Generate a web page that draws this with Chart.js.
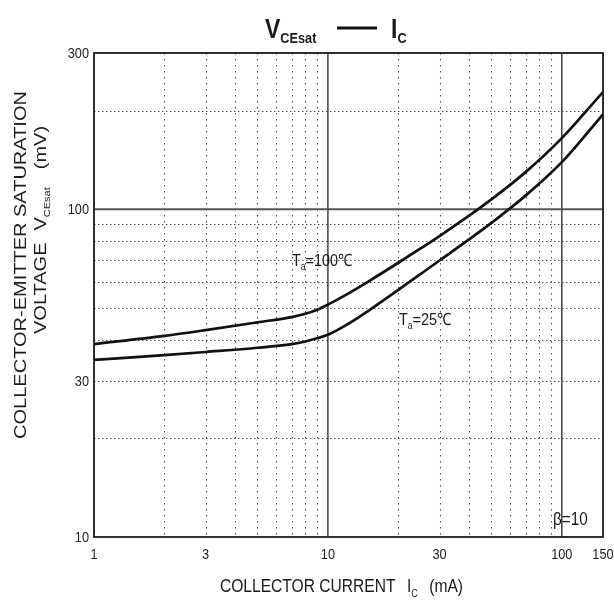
<!DOCTYPE html>
<html>
<head>
<meta charset="utf-8">
<script src="https://cdn.jsdelivr.net/npm/chart.js@4.4.0/dist/chart.umd.min.js"></script>
<style>
    html, body { margin: 0; padding: 0; background: #fff; }
    #contenedor { width: 614px; height: 601px; }
</style>
</head>
<body>
<div id="contenedor"><canvas id="grafico"></canvas></div>
<script>
const corriente = [1, 2, 3, 5, 7, 8, 9, 10, 12, 15, 20, 25, 30, 40, 50, 70, 100, 150];
const vce100 = [38.8, 41.1, 42.8, 45.2, 46.9, 48.0, 49.4, 51.2, 54.9, 60.4, 68.7, 76.1, 82.9, 95.5, 107.2, 129.9, 165, 228];
const vce25 = [34.7, 35.9, 36.7, 37.8, 38.8, 39.5, 40.4, 41.4, 44.4, 49.2, 56.8, 63.6, 69.8, 80.8, 90.9, 110.1, 139.3, 195];

const ticksX = [1, 3, 10, 30, 100, 150];
const ticksY = [10, 30, 100, 300];
const rejillaX = [2, 3, 4, 5, 6, 7, 8, 9, 20, 30, 40, 50, 60, 70, 80, 90];
const rejillaXSolida = [10, 100];
const rejillaY = [20, 30, 40, 50, 60, 70, 80, 90, 200];
const rejillaYSolida = [100];

const FUENTE = '"Liberation Sans", Arial, sans-serif';
const COLOR_TEXTO = "#1a1a1a";

// dibuja una secuencia de trozos de texto (para subindices)
function anchoTrozos(ctx, trozos) {
    let w = 0;
    trozos.forEach(t => {
        ctx.font = (t.bold ? "bold " : "") + t.size + "px " + FUENTE;
        w += ctx.measureText(t.t).width + (t.gap || 0);
    });
    return w;
}
function dibujaTrozos(ctx, trozos, x, y, sx, align, rotado) {
    ctx.save();
    ctx.translate(x, y);
    if (rotado) {
        ctx.rotate(-Math.PI / 2);
        ctx.scale(1, sx);
    } else {
        ctx.scale(sx, 1);
    }
    ctx.fillStyle = COLOR_TEXTO;
    ctx.textBaseline = "alphabetic";
    ctx.textAlign = "left";
    let w = anchoTrozos(ctx, trozos);
    let cx = align === "center" ? -w / 2 : (align === "right" ? -w : 0);
    trozos.forEach(t => {
        ctx.font = (t.bold ? "bold " : "") + t.size + "px " + FUENTE;
        ctx.fillText(t.t, cx, t.dy || 0);
        cx += ctx.measureText(t.t).width + (t.gap || 0);
    });
    ctx.restore();
}

const pluginRejilla = {
    id: "rejilla",
    beforeDatasetsDraw(chart) {
        const ctx = chart.ctx;
        const a = chart.chartArea;
        const sx = chart.scales.x, sy = chart.scales.y;
        ctx.save();
        // punteadas
        ctx.strokeStyle = "#4a4a4a";
        ctx.lineWidth = 1.1;
        ctx.setLineDash([1.4, 4.6]);
        rejillaX.forEach(v => {
            const px = Math.round(sx.getPixelForValue(v)) + 0.5;
            ctx.beginPath(); ctx.moveTo(px, a.top); ctx.lineTo(px, a.bottom); ctx.stroke();
        });
        ctx.setLineDash([1.4, 2.6]);
        rejillaY.forEach(v => {
            const py = Math.round(sy.getPixelForValue(v)) + 0.5;
            ctx.beginPath(); ctx.moveTo(a.left, py); ctx.lineTo(a.right, py); ctx.stroke();
        });
        // solidas
        ctx.setLineDash([]);
        ctx.strokeStyle = "#333";
        ctx.lineWidth = 1.4;
        rejillaXSolida.forEach(v => {
            const px = sx.getPixelForValue(v);
            ctx.beginPath(); ctx.moveTo(px, a.top); ctx.lineTo(px, a.bottom); ctx.stroke();
        });
        ctx.strokeStyle = "#555";
        ctx.lineWidth = 2;
        rejillaYSolida.forEach(v => {
            const py = sy.getPixelForValue(v);
            ctx.beginPath(); ctx.moveTo(a.left, py); ctx.lineTo(a.right, py); ctx.stroke();
        });
        // marco
        ctx.strokeStyle = "#1a1a1a";
        ctx.lineWidth = 1.8;
        ctx.strokeRect(a.left, a.top, a.right - a.left, a.bottom - a.top);
        ctx.restore();
    },
    afterDraw(chart) {
        const ctx = chart.ctx;
        const a = chart.chartArea;
        const sx = chart.scales.x, sy = chart.scales.y;
        // etiquetas de los ejes
        ticksY.forEach(v => {
            dibujaTrozos(ctx, [{ t: String(v), size: 15 }], a.left - 5, sy.getPixelForValue(v) + 5, 0.85, "right");
        });
        ticksX.forEach(v => {
            dibujaTrozos(ctx, [{ t: String(v), size: 15 }], sx.getPixelForValue(v), a.bottom + 22, 0.85, "center");
        });
        // titulo
        dibujaTrozos(ctx, [{ t: "V", size: 27, bold: true }, { t: "CEsat", size: 15, bold: true, dy: 5 }], 265, 38, 0.85, "left");
        ctx.save();
        ctx.strokeStyle = "#111";
        ctx.lineWidth = 3;
        ctx.beginPath(); ctx.moveTo(337, 28); ctx.lineTo(377, 28); ctx.stroke();
        ctx.restore();
        dibujaTrozos(ctx, [{ t: "I", size: 27, bold: true }, { t: "C", size: 15, bold: true, dy: 5 }], 391, 38, 0.85, "left");
        // titulo eje x
        dibujaTrozos(ctx, [
            { t: "COLLECTOR CURRENT", size: 19, gap: 14 },
            { t: "I", size: 19 },
            { t: "C", size: 11, dy: 5, gap: 14 },
            { t: "(mA)", size: 19 }
        ], 220, 592, 0.82, "left");
        // titulo eje y (dos lineas giradas)
        dibujaTrozos(ctx, [{ t: "COLLECTOR-EMITTER SATURATION", size: 20 }], 26, 265, 0.82, "center", true);
        dibujaTrozos(ctx, [
            { t: "VOLTAGE", size: 20, gap: 12 },
            { t: "V", size: 20 },
            { t: "CEsat", size: 11, dy: 5, gap: 18 },
            { t: "(mV)", size: 20 }
        ], 46, 334, 0.82, "left", true);
        // anotaciones
        dibujaTrozos(ctx, [{ t: "T", size: 17 }, { t: "a", size: 10, dy: 4 }, { t: "=100\u2103", size: 17 }], 292, 266, 0.85, "left");
        dibujaTrozos(ctx, [{ t: "T", size: 17 }, { t: "a", size: 10, dy: 4 }, { t: "=25\u2103", size: 17 }], 399, 325, 0.85, "left");
        dibujaTrozos(ctx, [{ t: "\u03b2=10", size: 18 }], 553, 525, 0.85, "left");
    }
};

const ctx = document.getElementById("grafico").getContext("2d");
new Chart(ctx, {
    type: "line",
    data: {
        datasets: [{
            label: "Ta=100",
            data: corriente.map((x, i) => ({ x: x, y: vce100[i] })),
            borderColor: "#111",
            borderWidth: 2.7,
            pointRadius: 0,
            cubicInterpolationMode: "monotone",
            fill: false
        }, {
            label: "Ta=25",
            data: corriente.map((x, i) => ({ x: x, y: vce25[i] })),
            borderColor: "#111",
            borderWidth: 2.7,
            pointRadius: 0,
            cubicInterpolationMode: "monotone",
            fill: false
        }]
    },
    options: {
        responsive: true,
        maintainAspectRatio: false,
        animation: false,
        layout: { padding: { left: 94, right: 11, top: 53, bottom: 64 } },
        plugins: { legend: { display: false }, tooltip: { enabled: false } },
        scales: {
            x: { type: "logarithmic", min: 1, max: 150, display: false },
            y: { type: "logarithmic", min: 10, max: 300, display: false }
        }
    },
    plugins: [pluginRejilla]
});
</script>
</body>
</html>
